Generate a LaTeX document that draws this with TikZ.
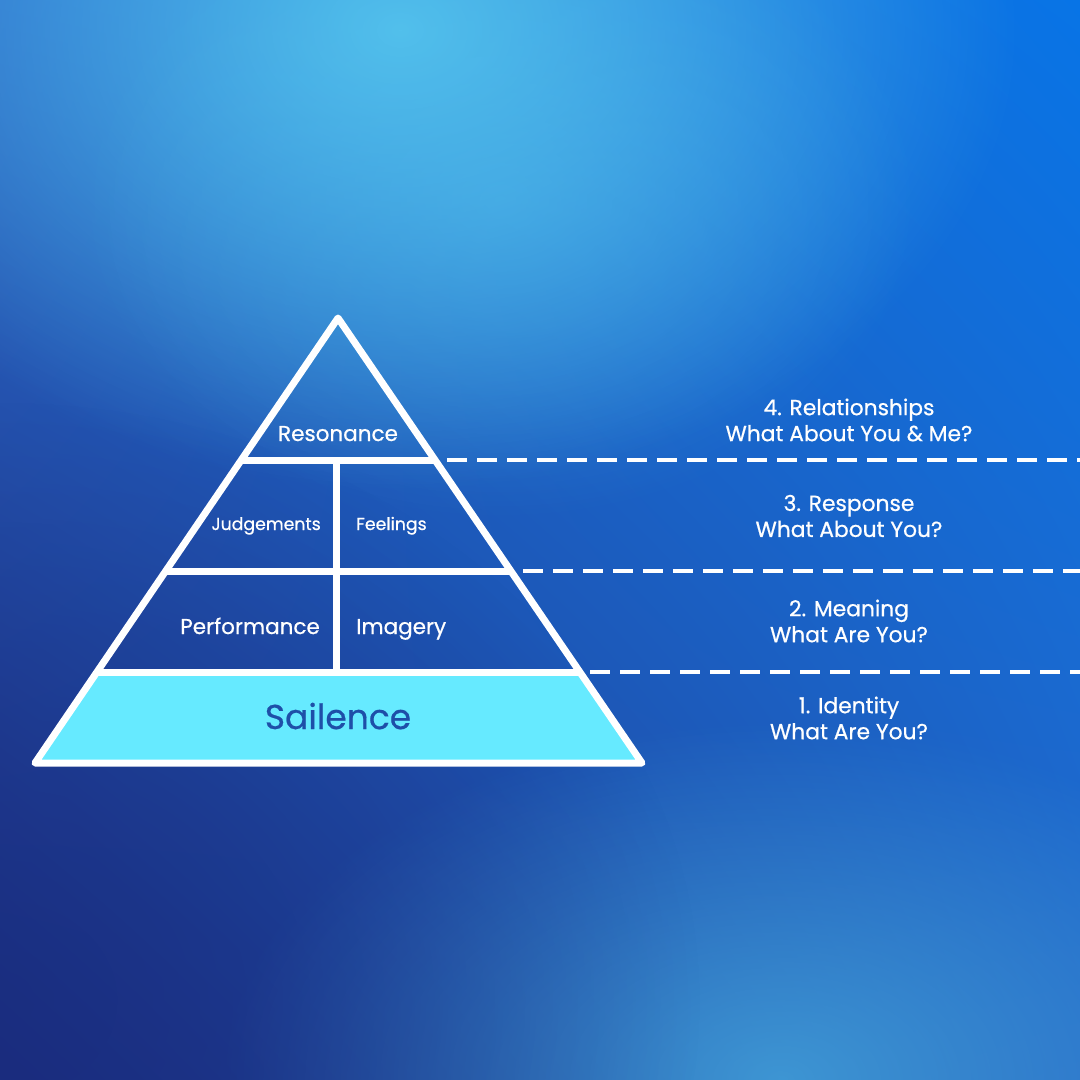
\documentclass[tikz,border=0pt]{standalone}
\usepackage{fontspec}
\setmainfont{Poppins}[FakeBold=0.6]
\usetikzlibrary{fadings,shadings}
\definecolor{bgtl}{HTML}{2A68CA}
\definecolor{bgtr}{HTML}{0874E6}
\definecolor{bgbl}{HTML}{1A2C7E}
\definecolor{bgbr}{HTML}{2464C4}
\definecolor{glowa}{HTML}{52C0EC}
\definecolor{glowb}{HTML}{45A6DC}
\definecolor{cyanband}{HTML}{66EAFF}
\definecolor{darktext}{HTML}{1E4FA8}
\tikzfading[name=softglow, inner color=transparent!0, outer color=transparent!100]
\tikzset{
  frame/.style={draw=white, line width=7pt, line join=round, line cap=round},
  divider/.style={draw=white, line width=7pt},
  guide/.style={draw=white, line width=3.2pt, dash pattern=on 20pt off 10pt},
  lbl/.style={text=white, font=\fontsize{21.5}{25}\selectfont, inner sep=0pt, anchor=base},
  small/.style={text=white, font=\fontsize{17.3}{20}\selectfont, inner sep=0pt, anchor=base},
  side/.style={text=white, font=\fontsize{21.8}{26}\selectfont, align=center, inner sep=0pt}
}
\begin{document}
\begin{tikzpicture}[x=1pt, y=-1pt]
\useasboundingbox (0,0) rectangle (1080,1080);
% background
\shade[upper left=bgtl, upper right=bgtr, lower left=bgbl, lower right=bgbr] (0,0) rectangle (1080,1080);
\begin{scope}
\clip (0,0) rectangle (1080,1080);
\fill[glowa, path fading=softglow] (400,30) ellipse [x radius=620, y radius=460];
\fill[glowa, path fading=softglow, opacity=0.45] (500,200) ellipse [x radius=420, y radius=320];
\fill[glowb, path fading=softglow, opacity=0.8] (780,1080) ellipse [x radius=560, y radius=360];
\fill[bgbl, path fading=softglow, opacity=0.6] (0,1000) ellipse [x radius=700, y radius=600];
\end{scope}
% pyramid geometry
\coordinate (apex) at (338,318);
\coordinate (bl) at (35,763);
\coordinate (br) at (642,763);
\coordinate (l1) at (241.3,460);
\coordinate (r1) at (435,460);
\coordinate (l2) at (166.4,571);
\coordinate (r2) at (510.2,571);
\coordinate (l3) at (97,672);
\coordinate (r3) at (580,672);
\coordinate (v1) at (336,460);
\coordinate (v2) at (336,672);
% Sailence band
\fill[cyanband] (l3) -- (r3) -- (br) -- (bl) -- cycle;
% dividers
\draw[divider] (l1) -- (r1);
\draw[divider] (l2) -- (r2);
\draw[divider] (l3) -- (r3);
\draw[divider] (v1) -- (v2);
% outline
\draw[frame] (apex) -- (br) -- (bl) -- cycle;
% dashed guides
\coordinate (d1s) at (447,460);
\coordinate (d1e) at (1080,460);
\coordinate (d2s) at (523,571);
\coordinate (d2e) at (1080,571);
\coordinate (d3s) at (590,672);
\coordinate (d3e) at (1080,672);
\draw[guide] (d1s) -- (d1e);
\draw[guide] (d2s) -- (d2e);
\draw[guide] (d3s) -- (d3e);
% pyramid labels
\node[lbl] (res) at (338,441) {Resonance};
\node[small, anchor=base east] (jud) at (321,530) {Judgements};
\node[small, anchor=base west] (fee) at (356,530) {Feelings};
\node[lbl, anchor=base east] (perf) at (320,634) {Performance};
\node[lbl, anchor=base west] (img) at (356,634) {Imagery};
\node[lbl, text=darktext, font=\fontsize{34.5}{40}\selectfont] (sai) at (338,729) {Sailence};
% side labels
\node[side] (s4) at (849,420) {4. Relationships\\What About You \& Me?};
\node[side] (s3) at (849,516) {3. Response\\What About You?};
\node[side] (s2) at (849,621) {2. Meaning\\What Are You?};
\node[side] (s1) at (849,718) {1. Identity\\What Are You?};
\end{tikzpicture}
\end{document}
